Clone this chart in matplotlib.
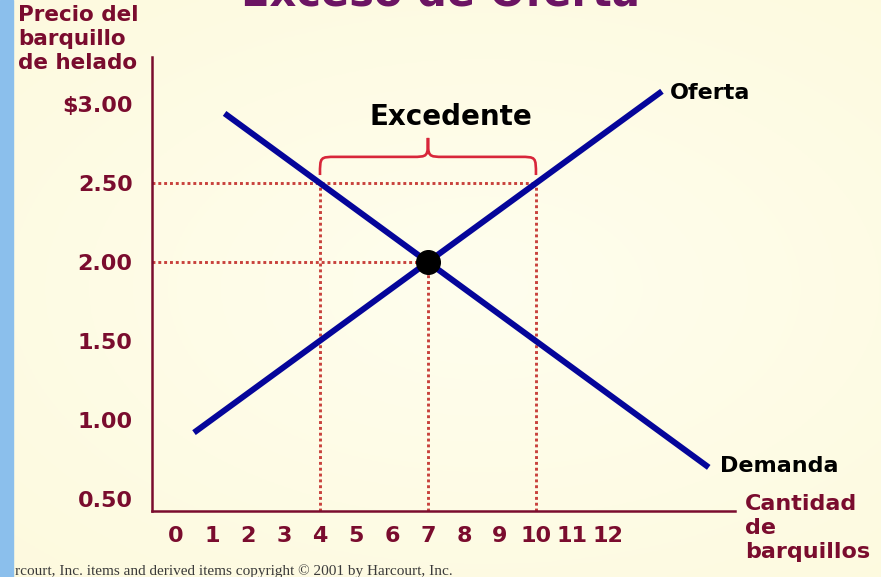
import numpy as np
import matplotlib
matplotlib.use("Agg")
import matplotlib.pyplot as plt
from matplotlib.path import Path
from matplotlib.patches import PathPatch, Rectangle

# values
quantities = list(range(0, 13))
prices = [0.50, 1.00, 1.50, 2.00, 2.50, 3.00]
price_labels = ["0.50", "1.00", "1.50", "2.00", "2.50", "\\$3.00"]

supply_q = [0.5, 13.5]
supply_p = [0.92, 3.08]
demand_q = [1.35, 14.8]
demand_p = [2.94, 0.70]

eq_q, eq_p = 7, 2.00
high_price = 2.50
qd_high, qs_high = 4, 10

MAROON = "#7a0c2e"
NAVY = "#05059a"
DOT_RED = "#c8413c"
BRACE_RED = "#d8263a"

plt.rcParams["font.family"] = ["DejaVu Sans"]
plt.rcParams["font.weight"] = "bold"

fig = plt.figure(figsize=(8.81, 5.77), dpi=100)
fig.patch.set_facecolor("#fffde6")

# soft centre glow of the slide background
bg = fig.add_axes([0, 0, 1, 1], zorder=-10)
yy, xx = np.mgrid[0:1:200j, 0:1:300j]
r = np.sqrt(((xx - 0.55) / 0.9) ** 2 + ((yy - 0.5) / 0.8) ** 2)
glow = np.clip(1 - r, 0, 1)
c0 = np.array([0xfd, 0xf9, 0xdc]) / 255
c1 = np.array([0xff, 0xfe, 0xee]) / 255
img = c0 + (c1 - c0) * glow[..., None]
bg.imshow(img, extent=[0, 1, 0, 1], aspect="auto")
bg.set_axis_off()

# blue strip on the left
fig.patches.append(Rectangle((0, 0), 13 / 881, 1, transform=fig.transFigure,
                             color="#8bbfec", zorder=5))

ax = fig.add_axes([152 / 881, 1 - 511 / 577, (735 - 152) / 881, (511 - 57) / 577])
ax.set_facecolor("none")
ax.set_xlim(-0.667, 15.53)
ax.set_ylim(0.424, 3.297)

for s in ["top", "right"]:
    ax.spines[s].set_visible(False)
for s in ["left", "bottom"]:
    ax.spines[s].set_color(MAROON)
    ax.spines[s].set_linewidth(1.8)

ax.set_xticks(quantities)
ax.set_xticklabels([str(q) for q in quantities])
ax.set_yticks(prices)
ax.set_yticklabels(price_labels)
ax.tick_params(axis="both", length=0, labelsize=16, labelcolor=MAROON)
ax.tick_params(axis="y", pad=14)
ax.tick_params(axis="x", pad=11)
for lab in ax.get_xticklabels() + ax.get_yticklabels():
    lab.set_fontweight("bold")

# dotted guide lines
dot = dict(color=DOT_RED, lw=2.1, linestyle=(0, (1, 1)), dash_capstyle="butt", zorder=2)
x0, y0 = ax.get_xlim()[0], ax.get_ylim()[0]
ax.plot([x0, qs_high], [high_price, high_price], **dot)
ax.plot([x0, eq_q], [eq_p, eq_p], **dot)
ax.plot([qd_high, qd_high], [y0, high_price], **dot)
ax.plot([eq_q, eq_q], [y0, eq_p], **dot)
ax.plot([qs_high, qs_high], [y0, high_price], **dot)

# supply and demand
ax.plot(supply_q, supply_p, color=NAVY, lw=4.3, solid_capstyle="butt", zorder=3, clip_on=False)
ax.plot(demand_q, demand_p, color=NAVY, lw=4.3, solid_capstyle="butt", zorder=3, clip_on=False)
ax.plot([eq_q], [eq_p], "o", color="black", markersize=17, zorder=4)

# curly brace over the surplus
b0, b1, bm = 2.55, 2.665, 2.785
w = 0.45
verts = [
    (qd_high, b0),
    (qd_high, b1), (qd_high, b1), (qd_high + w, b1),
    (eq_q - w, b1),
    (eq_q, b1), (eq_q, b1), (eq_q, bm),
    (eq_q, b1), (eq_q, b1), (eq_q + w, b1),
    (qs_high - w, b1),
    (qs_high, b1), (qs_high, b1), (qs_high, b0),
]
codes = [Path.MOVETO,
         Path.CURVE4, Path.CURVE4, Path.CURVE4,
         Path.LINETO,
         Path.CURVE4, Path.CURVE4, Path.CURVE4,
         Path.CURVE4, Path.CURVE4, Path.CURVE4,
         Path.LINETO,
         Path.CURVE4, Path.CURVE4, Path.CURVE4]
ax.add_patch(PathPatch(Path(verts, codes), facecolor="none", edgecolor=BRACE_RED,
                       lw=1.9, zorder=3))

ax.text(7.64, 2.92, "Excedente", fontsize=20, fontweight="bold", color="black",
        ha="center", va="center")
ax.text(13.72, 3.07, "Oferta", fontsize=16, fontweight="bold", color="black",
        ha="left", va="center", clip_on=False)
ax.text(15.1, 0.71, "Demanda", fontsize=16, fontweight="bold", color="black",
        ha="left", va="center", clip_on=False)

# axis titles
fig.text(18 / 881, 1 - 5 / 577, "Precio del\nbarquillo\nde helado", fontsize=15.5,
         fontweight="bold", color=MAROON, ha="left", va="top", linespacing=1.25)
fig.text(745 / 881, 1 - 494 / 577, "Cantidad\nde\nbarquillos", fontsize=16,
         fontweight="bold", color=MAROON, ha="left", va="top", linespacing=1.25)

# title, mostly cut off by the top edge as on the slide
fig.text(440 / 881, 1 - 5 / 577, "Exceso de Oferta", fontsize=30, fontweight="bold",
         color="#6c1463", ha="center", va="baseline")

fig.text(15 / 881, 1 - 575 / 577, "rcourt, Inc. items and derived items copyright \u00a9 2001 by Harcourt, Inc.",
         fontsize=11, family="Liberation Serif", fontweight="normal", color="#3a3a3a",
         ha="left", va="baseline")

fig.savefig("out.png", dpi=100, facecolor=fig.get_facecolor())
